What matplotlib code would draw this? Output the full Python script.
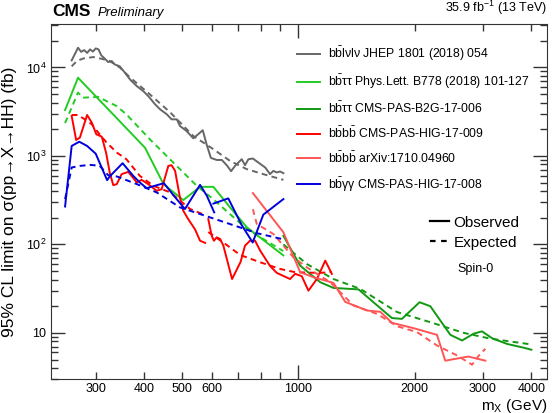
import matplotlib
matplotlib.use("Agg")
import matplotlib.pyplot as plt
from matplotlib.ticker import FixedLocator, FuncFormatter, LogLocator, NullFormatter
from matplotlib.lines import Line2D

# values (m_X in GeV, limit in fb)
gray_obs_x = [260, 270, 275, 280, 285, 290, 295, 300, 305, 310, 317, 323, 330, 336, 346, 357, 368, 383, 398, 410,
              427, 440, 458, 471, 486, 495, 515, 536, 552, 567, 580, 595, 616, 635, 654, 671, 687, 701, 715, 729,
              744, 764, 789, 822, 846, 863, 881, 898, 916]
gray_obs_y = [12000, 16700, 15000, 15700, 14600, 16000, 15100, 16400, 16000, 13700, 12500, 11500, 11800, 10800, 10300,
              8700, 7300, 6150, 5400, 4750, 3830, 3360, 2950, 2590, 2590, 2180, 1910, 1580, 1760, 1950,
              1355, 950, 900, 900, 785, 672, 771, 842, 918, 785, 918, 935, 842, 740, 622, 677, 650, 667, 638]
gray_exp_x = [260, 268, 278, 296, 311, 326, 346, 368, 414, 467, 536, 604, 667, 737, 813, 916]
gray_exp_y = [10300, 11800, 12600, 13100, 12500, 11800, 10000, 7700, 4960, 3110, 1680, 1190, 878, 708, 622, 536]

lime_obs_x = [250, 270, 402, 449, 505, 558, 604, 667, 737, 916]
lime_obs_y = [3300, 7650, 1240, 480, 317, 447, 447, 262, 156, 75]
lime_exp_x = [250, 270, 278, 304, 340, 360, 414, 476, 547, 603, 737, 915]
lime_exp_y = [2350, 5200, 4550, 4650, 3650, 2950, 1540, 840, 460, 325, 149, 84]

dgreen_obs_x = [916, 1012, 1140, 1234, 1432, 1565, 1747, 1854, 2059, 2195, 2473, 2651, 2841, 2985, 3170, 3465, 3823, 4004]
dgreen_obs_y = [125, 57.5, 37.4, 32.2, 31, 22.2, 14.7, 14.4, 22.2, 20, 9.5, 8.2, 9.8, 10.4, 8.7, 7.5, 6.8, 6.45]
dgreen_exp_x = [916, 1053, 1234, 1447, 1800, 2195, 2677, 3137, 4004]
dgreen_exp_y = [100, 60, 40.6, 31.4, 17.2, 13.2, 10, 8.6, 7.4]

# bbbb HIG-17-009: low mass and high mass pieces
red_obs_lo_x = [260, 267, 273, 285, 293, 301, 311, 319, 326, 333, 340, 350, 364, 383, 394, 410, 431, 444, 462, 471,
                481, 495, 505, 520, 541, 558, 575]
red_obs_lo_y = [2830, 1515, 1610, 2900, 2380, 1756, 1650, 1090, 650, 467, 480, 622, 660, 501, 536, 480, 403, 421, 771, 785,
                677, 340, 240, 193, 149, 110, 104]
red_obs_hi_x = [586, 598, 606, 616, 629, 641, 675, 710, 729, 751, 774, 798, 846, 881, 916, 953, 982, 1022, 1063, 1118,
                1175, 1222]
red_obs_hi_y = [193, 125, 110, 120, 115, 96.7, 40.6, 63.3, 96.7, 110, 110, 85, 57, 47.6, 44, 40.6, 46.5, 43.7, 30, 40.6,
                65.5, 46.4]
red_exp_lo_x = [260, 270, 281, 293, 307, 320, 340, 360, 390, 423, 467, 526, 575]
red_exp_lo_y = [2900, 2900, 2590, 2280, 1756, 1416, 1092, 918, 595, 459, 387, 251, 214]
red_exp_hi_x = [586, 654, 708, 798, 898, 982, 1140, 1222]
red_exp_hi_y = [138, 98.4, 76, 62.8, 52.8, 48.5, 47.6, 48.9]

lred_obs_x = [764, 916, 1012, 1095, 1234, 1323, 1506, 1630, 1747, 1987, 2284, 2399, 2751, 3045]
lred_obs_y = [380, 137, 48.5, 42.6, 36.7, 22.4, 17.9, 17.3, 13, 11.3, 9.5, 4.85, 5.4, 4.85]
lred_exp_x = [764, 782, 863, 972, 1053, 1210, 1390, 1598, 1800, 2028, 2284, 2573, 2813, 2926, 3045]
lred_exp_y = [250, 170, 131, 71.5, 55, 37.4, 20.4, 16.4, 11.9, 10.2, 7.2, 5.56, 4.37, 5.5, 6.6]

blue_obs_lo_x = [250, 260, 272, 285, 300, 321, 326, 352, 375, 390, 406, 450, 476, 510, 558, 581, 607]
blue_obs_lo_y = [268, 1296, 1446, 1296, 1059, 532, 586, 827, 595, 501, 432, 492, 361, 251, 471, 354, 230]
blue_obs_hi_x = [604, 660, 715, 763, 813, 916]
blue_obs_hi_y = [289, 331, 165, 105, 217, 325]
blue_exp_x = [250, 260, 273, 290, 307, 323, 340, 383, 431, 495, 592, 694, 782, 916]
blue_exp_y = [325, 740, 771, 791, 775, 606, 586, 480, 387, 262, 202, 160, 134, 114]

labels = [
    r"$\mathrm{b\bar{b}}$lνlν JHEP 1801 (2018) 054",
    r"$\mathrm{b\bar{b}}$ττ Phys.Lett. B778 (2018) 101-127",
    r"$\mathrm{b\bar{b}}$ττ CMS-PAS-B2G-17-006",
    r"$\mathrm{b\bar{b}b\bar{b}}$ CMS-PAS-HIG-17-009",
    r"$\mathrm{b\bar{b}b\bar{b}}$ arXiv:1710.04960",
    r"$\mathrm{b\bar{b}}$γγ CMS-PAS-HIG-17-008",
]
colors = ["#666666", "#22cc22", "#119911", "#ff0000", "#ff5555", "#0000dd"]

x_labelled = [300, 400, 500, 600, 2000, 3000, 4000]
x_minor = [300, 400, 500, 600, 700, 800, 900, 2000, 3000, 4000]

plt.rcParams["font.family"] = ["Liberation Sans", "DejaVu Sans"]
plt.rcParams["mathtext.fontset"] = "custom"
plt.rcParams["mathtext.rm"] = "Liberation Sans"
plt.rcParams["mathtext.it"] = "Liberation Sans:italic"
plt.rcParams["mathtext.bf"] = "Liberation Sans:bold"

fig = plt.figure(figsize=(5.55, 4.13), dpi=100)
ax = fig.add_axes([0.092, 0.082, 0.894, 0.860])

lw = 1.4
dash = (3, 2.2)

def obs(x, y, c):
    ax.plot(x, y, color=c, lw=lw, solid_joinstyle="round")

def exp(x, y, c):
    ax.plot(x, y, color=c, lw=lw, linestyle=(0, dash))

obs(gray_obs_x, gray_obs_y, colors[0]); exp(gray_exp_x, gray_exp_y, colors[0])
obs(lime_obs_x, lime_obs_y, colors[1]); exp(lime_exp_x, lime_exp_y, colors[1])
obs(dgreen_obs_x, dgreen_obs_y, colors[2]); exp(dgreen_exp_x, dgreen_exp_y, colors[2])
obs(red_obs_lo_x, red_obs_lo_y, colors[3]); obs(red_obs_hi_x, red_obs_hi_y, colors[3])
exp(red_exp_lo_x, red_exp_lo_y, colors[3]); exp(red_exp_hi_x, red_exp_hi_y, colors[3])
obs(lred_obs_x, lred_obs_y, colors[4]); exp(lred_exp_x, lred_exp_y, colors[4])
obs(blue_obs_lo_x, blue_obs_lo_y, colors[5]); obs(blue_obs_hi_x, blue_obs_hi_y, colors[5])
exp(blue_exp_x, blue_exp_y, colors[5])

ax.set_xscale("log")
ax.set_yscale("log")
ax.set_xlim(230, 4400)
ax.set_ylim(3, 31000)

ax.xaxis.set_major_locator(FixedLocator([1000]))
ax.xaxis.set_major_formatter(FuncFormatter(lambda v, p: "%d" % v))
ax.xaxis.set_minor_locator(FixedLocator(x_minor))
ax.xaxis.set_minor_formatter(FuncFormatter(lambda v, p: "%d" % v if int(round(v)) in x_labelled else ""))

ytxt = {10: "10", 100: r"$10^{2}$", 1000: r"$10^{3}$", 10000: r"$10^{4}$"}
ax.yaxis.set_major_locator(FixedLocator(list(ytxt.keys())))
ax.yaxis.set_major_formatter(FuncFormatter(lambda v, p: ytxt.get(int(round(v)), "")))
ax.yaxis.set_minor_locator(LogLocator(base=10, subs=range(2, 10)))
ax.yaxis.set_minor_formatter(NullFormatter())

ax.tick_params(which="both", direction="in", top=True, right=True, labelsize=9, colors="#333333", labelcolor="black")
ax.tick_params(which="major", length=10, width=1)
ax.tick_params(which="minor", length=5, width=1)
ax.tick_params(axis="x", which="both", pad=3)
for s in ax.spines.values():
    s.set_color("#333333")

ax.set_ylabel("95% CL limit on σ(pp→X→HH) (fb)", fontsize=12.5)
ax.yaxis.set_label_coords(-0.068, 0.5)
ax.set_xlabel(r"m$_{\mathrm{X}}$ (GeV)", fontsize=11, loc="right")
ax.xaxis.set_label_coords(1.0, -0.049)

fig.text(0.094, 0.953, "CMS", fontsize=12.5, fontweight="bold", va="bottom")
fig.text(0.175, 0.953, "Preliminary", fontsize=9.5, style="italic", va="bottom")
fig.text(0.986, 0.958, r"35.9 fb$^{-1}$ (13 TeV)", fontsize=9, ha="right", va="bottom")

handles = [Line2D([], [], color=c, lw=lw) for c in colors]
leg = ax.legend(handles, labels, loc="upper left", bbox_to_anchor=(0.475, 0.969), frameon=False,
                fontsize=8.8, handlelength=1.95, handletextpad=0.6, labelspacing=0.78, borderpad=0.3)
ax.add_artist(leg)

h2 = [Line2D([], [], color="black", lw=1.6), Line2D([], [], color="black", lw=1.6, linestyle=(0, (2.5, 2.5)))]
ax.legend(h2, ["Observed", "Expected"], loc="upper left", bbox_to_anchor=(0.74, 0.495), frameon=False,
          fontsize=11, handlelength=1.2, handletextpad=0.3, labelspacing=0.4, borderpad=0.3)
ax.text(0.855, 0.31, "Spin-0", transform=ax.transAxes, fontsize=9, ha="center", va="center")

fig.savefig("out.png", dpi=100)
